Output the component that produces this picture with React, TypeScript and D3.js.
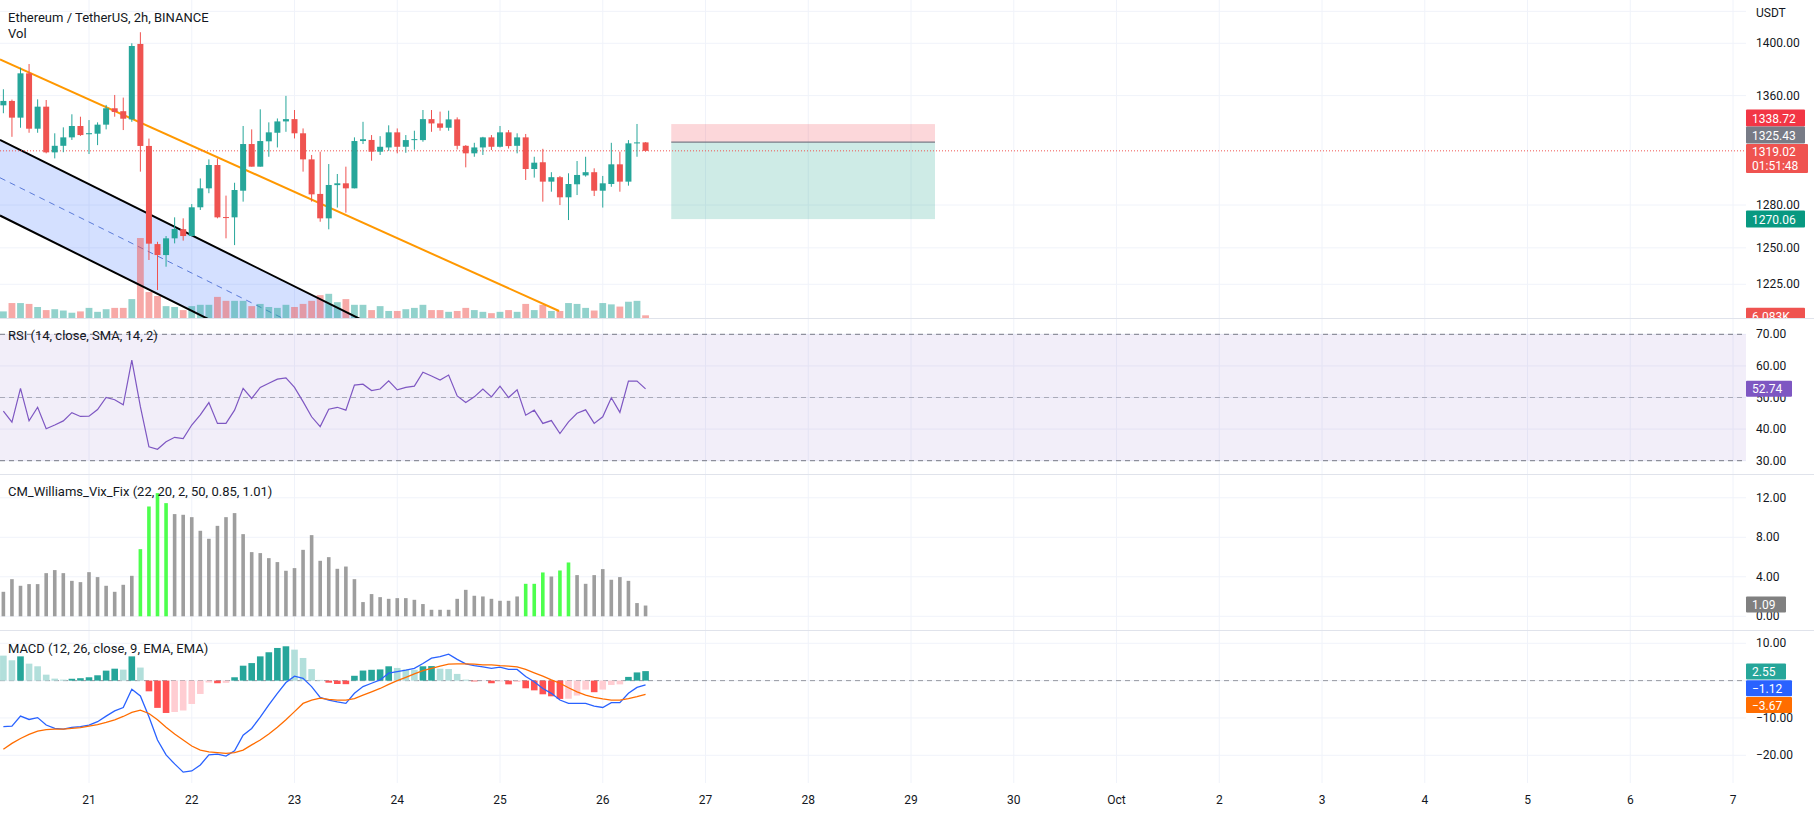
import React from "react";
import * as d3 from "d3";

// ---------- DATA ----------
const OPEN = [1352.7,1356.0,1343.5,1376.9,1335.3,1351.7,1317.9,1322.7,1328.9,1337.3,1331.2,1331.6,1338.3,1350.5,1348.3,1342.2,1399.5,1322.6,1252.6,1245.0,1256.6,1263.0,1258.2,1278.4,1291.9,1308.7,1271.5,1271.3,1290.2,1324.0,1307.5,1326.0,1332.3,1340.7,1342.4,1331.9,1312.8,1287.9,1270.6,1294.2,1295.5,1291.9,1326.2,1327.0,1318.4,1321.5,1332.6,1322.0,1326.9,1326.9,1342.4,1339.2,1336.0,1342.2,1322.7,1317.2,1321.5,1328.9,1322.0,1332.6,1322.7,1328.9,1305.8,1310.7,1296.7,1299.9,1285.5,1294.8,1301.2,1303.5,1290.2,1295.0,1309.2,1296.7,1324.5,1325.2];
const HIGH = [1364.8,1357.0,1381.2,1384.0,1357.2,1356.7,1331.9,1336.3,1346.0,1344.2,1341.7,1340.0,1353.0,1360.5,1358.5,1400.0,1408.6,1328.0,1254.2,1258.2,1271.3,1270.6,1280.7,1299.0,1312.8,1313.5,1286.7,1295.9,1337.3,1334.8,1349.7,1340.0,1342.9,1359.8,1349.2,1335.5,1316.0,1318.4,1309.4,1302.2,1307.5,1328.9,1340.4,1330.6,1329.8,1337.8,1335.5,1330.6,1333.8,1349.2,1349.2,1348.0,1348.7,1343.7,1323.2,1324.9,1329.3,1330.6,1337.3,1334.3,1331.9,1331.4,1314.7,1320.5,1303.5,1300.8,1302.7,1311.6,1314.7,1306.3,1300.8,1324.9,1318.4,1326.9,1338.8,1325.4];
const LOW = [1346.8,1329.3,1336.0,1332.3,1332.3,1317.2,1313.5,1318.0,1327.0,1330.0,1316.7,1323.2,1334.8,1344.2,1334.3,1340.4,1303.9,1241.6,1221.1,1237.0,1253.1,1255.0,1258.0,1276.5,1288.4,1270.6,1256.6,1251.9,1282.4,1307.5,1307.5,1314.7,1321.5,1333.0,1328.1,1303.9,1282.4,1268.2,1262.9,1278.2,1274.6,1291.9,1324.0,1311.8,1316.0,1319.0,1317.2,1317.6,1319.9,1325.7,1333.0,1333.8,1333.8,1320.0,1307.0,1314.7,1316.0,1319.6,1321.5,1320.7,1317.2,1297.9,1299.6,1282.4,1289.5,1280.0,1269.4,1287.1,1300.3,1286.4,1278.2,1293.0,1289.5,1293.8,1314.7,1318.4];
const CLOSE = [1356.0,1343.5,1376.9,1335.3,1351.7,1317.9,1322.7,1328.9,1337.3,1330.6,1332.0,1338.3,1350.5,1347.7,1342.7,1397.9,1322.6,1252.9,1245.0,1256.6,1263.1,1258.2,1278.4,1291.9,1308.7,1271.3,1271.0,1290.7,1324.0,1307.5,1326.2,1332.6,1340.7,1342.4,1331.9,1312.8,1287.6,1270.6,1294.3,1295.5,1291.9,1326.2,1327.5,1318.4,1322.0,1332.6,1322.0,1326.9,1327.6,1342.4,1339.2,1336.0,1342.2,1322.7,1317.2,1321.5,1328.9,1322.0,1332.6,1322.5,1328.9,1305.8,1310.4,1296.7,1299.9,1285.5,1295.0,1301.5,1303.5,1290.2,1295.5,1309.2,1296.7,1324.5,1325.2,1319.02];
const VOLUME_K = [15,34,34,32,25,18,20,17,12,15,23,14,20,23,23,43,182,59,50,27,25,18,27,30,30,48,39,39,39,27,32,25,23,30,25,32,39,52,55,36,43,30,30,18,27,16,16,20,23,30,18,18,14,16,23,18,14,11,14,18,14,32,18,30,16,16,34,32,23,17,34,31,26,37,39,6.083];
const RSI = [45.7,42.2,52.9,42.6,46.9,40.1,41.3,42.6,45.2,44.0,44.1,46.2,50.0,49.3,47.7,61.8,47.1,34.4,33.6,36.0,37.4,37.0,41.3,44.5,48.4,41.8,41.8,46.0,52.9,49.7,53.2,54.5,55.8,56.2,53.2,48.7,43.9,40.8,46.3,46.9,46.0,53.9,54.2,52.2,52.7,55.3,52.4,53.2,53.6,58.0,56.8,55.5,57.1,50.5,48.4,50.2,52.7,50.2,53.6,50.0,52.4,44.4,46.0,41.8,42.7,38.6,42.3,45.0,46.1,41.8,43.9,49.9,45.3,55.2,55.2,52.74];
const VIX = [2.48,3.76,3.09,3.26,3.26,4.37,4.68,4.37,3.59,3.46,4.47,3.97,3.09,2.48,3.19,4.10,6.80,11.12,12.47,11.46,10.35,10.28,10.04,8.66,7.85,9.16,10.04,10.45,8.32,6.50,6.40,5.89,5.49,4.61,4.88,6.73,8.22,5.62,5.99,4.81,5.04,3.76,1.44,2.25,1.94,1.77,1.84,1.84,1.67,1.24,0.66,0.66,0.66,1.77,2.68,2.08,2.01,1.77,1.57,1.57,2.01,3.29,3.29,4.44,4.03,4.64,5.45,4.17,3.29,4.17,4.78,3.70,3.97,3.59,1.34,1.09];
const VIX_ALERT = [16,17,18,19,61,62,63,65,66];
const MACD = [-12.3,-12.2,-9.5,-10.4,-9.9,-11.9,-12.8,-13.0,-12.5,-12.3,-11.9,-11.0,-9.5,-8.1,-7.2,-2.3,-4.1,-9.7,-15.9,-19.9,-22.3,-24.5,-24.2,-22.6,-19.9,-19.7,-20.2,-18.8,-14.6,-12.8,-9.8,-6.5,-3.4,-0.5,1.2,0.6,-1.6,-4.5,-5.2,-5.7,-6.1,-3.4,-1.6,-0.7,0.2,2.0,2.4,2.8,3.3,4.6,6.0,6.4,7.1,5.7,4.5,4.0,3.7,3.3,3.6,3.0,3.0,1.1,-0.3,-2.1,-3.4,-5.2,-6.1,-6.1,-6.1,-6.8,-7.2,-5.9,-5.9,-3.4,-1.8,-1.12];
const SIGNAL = [-18.4,-16.8,-15.5,-14.4,-13.5,-13.1,-13.0,-13.0,-12.8,-12.6,-12.2,-11.8,-11.2,-10.5,-9.6,-8.5,-7.9,-8.8,-10.5,-12.5,-14.3,-15.9,-17.5,-18.6,-19.1,-19.3,-19.5,-19.3,-18.6,-17.2,-15.9,-14.3,-12.5,-10.5,-8.3,-6.1,-5.2,-4.7,-5.0,-5.2,-5.2,-4.8,-3.9,-3.0,-2.1,-1.0,0.0,0.9,1.8,2.7,3.3,3.9,4.4,4.5,4.5,4.4,4.2,4.2,4.0,3.9,3.7,3.0,2.1,1.2,0.2,-0.7,-1.9,-3.0,-3.9,-4.5,-4.9,-5.2,-5.2,-4.8,-4.3,-3.67];
const HIST = [6.7,5.45,6.5,4.55,3.84,1.6,0.54,0.27,0.5,0.65,0.9,1.43,2.68,3.2,2.95,6.5,3.5,-2.86,-7.3,-8.66,-8.4,-8.0,-6.25,-3.57,-0.5,-0.7,-0.6,0.9,4.0,4.7,6.5,7.6,8.75,9.2,8.3,6.07,3.1,0.2,-0.55,-0.9,-0.95,1.3,2.7,2.9,3.0,3.84,3.4,2.95,2.9,3.84,3.9,3.2,3.1,1.8,0.27,-0.2,-0.05,-0.7,-0.2,-1.0,-0.36,-2.05,-2.6,-3.66,-4.2,-4.9,-4.85,-4.0,-2.4,-3.1,-2.4,-1.16,-1.0,1.0,2.2,2.55];

const DAY_LABELS = ["21","22","23","24","25","26","27","28","29","30","Oct","2","3","4","5","6","7"];
const PRICE_TICKS = [1400, 1360, 1280, 1250, 1225];
const RSI_TICKS = [70, 60, 50, 40, 30];
const VIX_TICKS = [12, 8, 4, 0];
const MACD_TICKS = [10, -10, -20];

// drawings: [barIndex, price]
const TREND_LINE = [[-0.4, 1387.6], [64.9, 1207.0]];
const CHANNEL_UPPER = [[-0.4, 1327.0], [46.3, 1188.6]];
const CHANNEL_LOWER = [[-0.4, 1272.6], [46.3, 1139.9]];
const POSITION = { startBar: 78, endBar: 108.8, target: 1338.72, entry: 1325.43, stop: 1270.06 };
const LAST_PRICE = 1319.02;

const FONT = "Roboto, 'Noto Sans', sans-serif";
const UP = "#26a69a";
const DOWN = "#ef5350";

export default function App() {
  const W = 1814, H = 815, R = 1746;
  const MAIN = [0, 318], RSIP = [318, 474], VIXP = [474, 630], MACDP = [630, 783];
  const t0 = Date.UTC(2022, 8, 20, 4);
  const barTime = (i: number) => new Date(t0 + i * 2 * 3600e3);
  const x = d3.scaleUtc()
    .domain([new Date(Date.UTC(2022, 8, 21)), new Date(Date.UTC(2022, 9, 7))])
    .range([89, 1733]);
  const bx = (i: number) => x(barTime(i));
  const yP = d3.scaleLog().domain([1225, 1400]).range([284.3, 43.3]);
  const yV = d3.scaleLinear().domain([0, 182]).range([318, 238]);
  const yR = d3.scaleLinear().domain([30, 70]).range([460.7, 334.3]);
  const yX = d3.scaleLinear().domain([0, 12]).range([616.3, 497.8]);
  const yM = d3.scaleLinear().domain([-20, 10]).range([755.3, 643.3]);

  const days = d3.utcDay.range(new Date(Date.UTC(2022, 8, 21)), new Date(Date.UTC(2022, 9, 8)));
  const grid = "#f0f3fa";
  const txt = "#131722";

  const rsiLine = d3.line<number>().x((_, i) => bx(i)).y((d) => yR(d))(RSI) || "";
  const macdLine = d3.line<number>().x((_, i) => bx(i)).y((d) => yM(d))(MACD) || "";
  const sigLine = d3.line<number>().x((_, i) => bx(i)).y((d) => yM(d))(SIGNAL) || "";

  const pt = (p: number[]) => [bx(p[0]), yP(p[1])];
  const tl = TREND_LINE.map(pt);
  const cu = CHANNEL_UPPER.map(pt);
  const cl = CHANNEL_LOWER.map(pt);
  const cm = [[(cu[0][0] + cl[0][0]) / 2, (cu[0][1] + cl[0][1]) / 2], [(cu[1][0] + cl[1][0]) / 2, (cu[1][1] + cl[1][1]) / 2]];

  const histColor = (i: number) => {
    const h = HIST[i];
    const prev = i > 0 ? HIST[i - 1] : h;
    if (h >= 0) return h > prev ? "#26a69a" : "#b2dfdb";
    return h < prev ? "#ff5252" : "#ffcdd2";
  };

  const axisLabel = (y: number, s: string, key: string) => (
    <text key={key} x={1756} y={y} dominantBaseline="central" fontSize={12} fill={txt} fontFamily={FONT}>{s}</text>
  );
  const box = (y: number, s: string, bg: string, w: number, key: string, h = 17) => (
    <g key={key}>
      <rect x={R} y={y - h / 2} width={w} height={h} fill={bg} rx={1} />
      <text x={R + 6} y={y + 0.5} dominantBaseline="central" fontSize={12} fill="#fff" fontFamily={FONT}>{s}</text>
    </g>
  );

  const pxs = bx(POSITION.startBar), pxe = bx(POSITION.endBar);

  return (
    <svg width={W} height={H} style={{ position: "absolute", left: 0, top: 0, display: "block", background: "#fff" }}>
      <defs>
        <clipPath id="cMain"><rect x={0} y={MAIN[0]} width={R} height={MAIN[1] - MAIN[0]} /></clipPath>
        <clipPath id="cRsi"><rect x={0} y={RSIP[0]} width={R} height={RSIP[1] - RSIP[0]} /></clipPath>
        <clipPath id="cVix"><rect x={0} y={VIXP[0]} width={R} height={VIXP[1] - VIXP[0]} /></clipPath>
        <clipPath id="cMacd"><rect x={0} y={MACDP[0]} width={R} height={MACDP[1] - MACDP[0]} /></clipPath>
        <clipPath id="cMainAxis"><rect x={R} y={0} width={W - R} height={MAIN[1]} /></clipPath>
      </defs>

      {/* vertical gridlines */}
      {days.map((d, i) => (
        <line key={"vg" + i} x1={x(d)} x2={x(d)} y1={0} y2={MACDP[1]} stroke={grid} strokeWidth={1} />
      ))}
      {/* horizontal gridlines */}
      {[1425, ...PRICE_TICKS].map((v) => (
        <line key={"pg" + v} x1={0} x2={R} y1={yP(v)} y2={yP(v)} stroke={grid} />
      ))}
      {RSI_TICKS.map((v) => <line key={"rg" + v} x1={0} x2={R} y1={yR(v)} y2={yR(v)} stroke={grid} />)}
      {VIX_TICKS.map((v) => <line key={"xg" + v} x1={0} x2={R} y1={yX(v)} y2={yX(v)} stroke={grid} />)}
      {[10, 0, -10, -20].map((v) => <line key={"mg" + v} x1={0} x2={R} y1={yM(v)} y2={yM(v)} stroke={grid} />)}

      {/* MAIN PANE */}
      <g clipPath="url(#cMain)">
        {/* channel */}
        <polygon points={[cu[0], cu[1], cl[1], cl[0]].map((p) => p.join(",")).join(" ")} fill="rgba(41,98,255,0.2)" />
        <line x1={cm[0][0]} y1={cm[0][1]} x2={cm[1][0]} y2={cm[1][1]} stroke="#5b7bd9" strokeWidth={1} strokeDasharray="6 5" />
        {/* volume */}
        {VOLUME_K.map((v, i) => (
          <rect key={"v" + i} x={bx(i) - 3.4} width={6.8} y={yV(v)} height={yV(0) - yV(v)}
            fill={CLOSE[i] >= OPEN[i] ? "rgba(38,166,154,0.5)" : "rgba(239,83,80,0.5)"} />
        ))}
        <line x1={cu[0][0]} y1={cu[0][1]} x2={cu[1][0]} y2={cu[1][1]} stroke="#000" strokeWidth={2} />
        <line x1={cl[0][0]} y1={cl[0][1]} x2={cl[1][0]} y2={cl[1][1]} stroke="#000" strokeWidth={2} />
        {/* orange trend line */}
        <line x1={tl[0][0]} y1={tl[0][1]} x2={tl[1][0]} y2={tl[1][1]} stroke="#ff9800" strokeWidth={2} />
        {/* position tool */}
        <rect x={pxs} width={pxe - pxs} y={yP(POSITION.target)} height={yP(POSITION.entry) - yP(POSITION.target)} fill="rgba(242,54,69,0.2)" />
        <rect x={pxs} width={pxe - pxs} y={yP(POSITION.entry)} height={yP(POSITION.stop) - yP(POSITION.entry)} fill="rgba(8,153,129,0.2)" />
        <line x1={pxs} x2={pxe} y1={yP(POSITION.entry)} y2={yP(POSITION.entry)} stroke="#787b86" strokeWidth={1.2} />
        {/* last price line */}
        <line x1={0} x2={R} y1={yP(LAST_PRICE)} y2={yP(LAST_PRICE)} stroke={DOWN} strokeWidth={1} strokeDasharray="1 2" />
        {/* candles */}
        {OPEN.map((o, i) => {
          const c = CLOSE[i];
          const col = c >= o ? UP : DOWN;
          const cx = bx(i);
          const top = yP(Math.max(o, c)), bot = yP(Math.min(o, c));
          return (
            <g key={"c" + i}>
              <line x1={cx} x2={cx} y1={yP(HIGH[i])} y2={yP(LOW[i])} stroke={col} strokeWidth={1} />
              <rect x={cx - 3} width={6} y={top} height={Math.max(1, bot - top)} fill={col} />
            </g>
          );
        })}
      </g>
      <text x={8} y={17} dominantBaseline="central" fontSize={13} fill={txt} fontFamily={FONT}>Ethereum / TetherUS, 2h, BINANCE</text>
      <text x={8} y={33.5} dominantBaseline="central" fontSize={13} fill={txt} fontFamily={FONT}>Vol</text>

      {/* RSI PANE */}
      <g clipPath="url(#cRsi)">
        <rect x={0} y={yR(70)} width={R} height={yR(30) - yR(70)} fill="rgba(126,87,194,0.1)" />
        <line x1={0} x2={R} y1={yR(70)} y2={yR(70)} stroke="#787b86" strokeDasharray="5 4" />
        <line x1={0} x2={R} y1={yR(50)} y2={yR(50)} stroke="rgba(120,123,134,0.55)" strokeDasharray="5 4" />
        <line x1={0} x2={R} y1={yR(30)} y2={yR(30)} stroke="#787b86" strokeDasharray="5 4" />
        <path d={rsiLine} fill="none" stroke="#7e57c2" strokeWidth={1.2} />
      </g>
      <text x={8} y={335.5} dominantBaseline="central" fontSize={13} fill={txt} fontFamily={FONT}>RSI (14, close, SMA, 14, 2)</text>

      {/* VIX FIX PANE */}
      <g clipPath="url(#cVix)">
        {VIX.map((v, i) => (
          <rect key={"x" + i} x={bx(i) - 1.8} width={3.6} y={yX(v)} height={yX(0) - yX(v)}
            fill={VIX_ALERT.includes(i) ? "#4dff4d" : "#9e9e9e"} />
        ))}
      </g>
      <text x={8} y={491.7} dominantBaseline="central" fontSize={13} fill={txt} fontFamily={FONT}>CM_Williams_Vix_Fix (22, 20, 2, 50, 0.85, 1.01)</text>

      {/* MACD PANE */}
      <g clipPath="url(#cMacd)">
        <line x1={0} x2={R} y1={yM(0)} y2={yM(0)} stroke="#9598a1" strokeDasharray="5 4" />
        {HIST.map((h, i) => (
          <rect key={"h" + i} x={bx(i) - 3.3} width={6.6} y={Math.min(yM(h), yM(0))} height={Math.abs(yM(h) - yM(0))} fill={histColor(i)} />
        ))}
        <path d={macdLine} fill="none" stroke="#2962ff" strokeWidth={1.3} />
        <path d={sigLine} fill="none" stroke="#ff6d00" strokeWidth={1.3} />
      </g>
      <text x={8} y={648} dominantBaseline="central" fontSize={13} fill={txt} fontFamily={FONT}>MACD (12, 26, close, 9, EMA, EMA)</text>

      {/* pane separators */}
      {[MAIN[1], RSIP[1], VIXP[1]].map((y) => (
        <line key={"sep" + y} x1={0} x2={W} y1={y + 0.5} y2={y + 0.5} stroke="#e0e3eb" />
      ))}

      {/* right axis labels */}
      <text x={1756} y={13} dominantBaseline="central" fontSize={12} fill={txt} fontFamily={FONT}>USDT</text>
      {PRICE_TICKS.map((v) => axisLabel(yP(v), d3.format(".2f")(v), "pl" + v))}
      {RSI_TICKS.map((v) => axisLabel(yR(v), d3.format(".2f")(v), "rl" + v))}
      {VIX_TICKS.map((v) => axisLabel(yX(v), d3.format(".2f")(v), "xl" + v))}
      {MACD_TICKS.map((v) => axisLabel(yM(v), d3.format(".2f")(v).replace("-", "\u2212"), "ml" + v))}

      {/* value boxes */}
      {box(yP(POSITION.target) - 6, "1338.72", "#f23645", 59, "b1")}
      {box(yP(POSITION.entry) - 7, "1325.43", "#787b86", 59, "b2")}
      <g>
        <rect x={R} y={144} width={62} height={29} fill={DOWN} rx={1} />
        <text x={R + 6} y={152} dominantBaseline="central" fontSize={12} fill="#fff" fontFamily={FONT}>1319.02</text>
        <text x={R + 6} y={165.5} dominantBaseline="central" fontSize={12} fill="#fff" fontFamily={FONT}>01:51:48</text>
      </g>
      {box(yP(POSITION.stop), "1270.06", "#089981", 59, "b4")}
      <g clipPath="url(#cMainAxis)">{box(yV(VOLUME_K[75]) + 1.5, "6.083K", "#ef5350", 59, "b5", 18)}</g>
      {box(yR(RSI[75]), "52.74", "#7e57c2", 46, "b6", 16)}
      {box(yX(VIX[75]) - 1, "1.09", "#808080", 40, "b7", 16)}
      {box(671.5, "2.55", "#26a69a", 40, "b8", 16)}
      {box(688.3, "\u22121.12", "#2962ff", 46, "b9", 16)}
      {box(705, "\u22123.67", "#ff6d00", 46, "b10", 16)}

      {/* time axis */}
      {days.map((d, i) => (
        <text key={"tl" + i} x={x(d)} y={800} textAnchor="middle" dominantBaseline="central" fontSize={12} fill={txt} fontFamily={FONT}>{DAY_LABELS[i]}</text>
      ))}
    </svg>
  );
}
